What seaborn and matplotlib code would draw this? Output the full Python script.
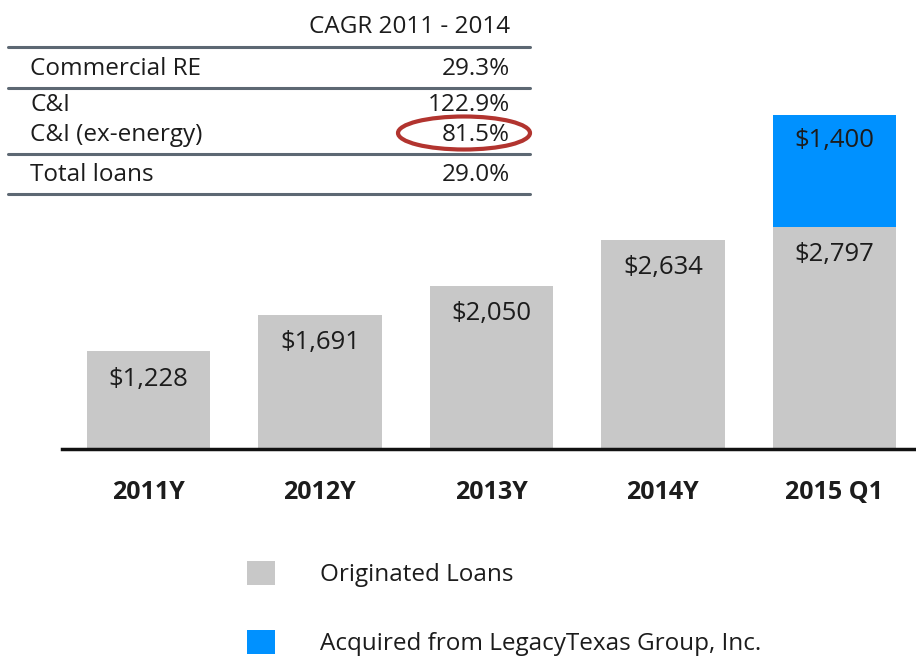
import matplotlib
matplotlib.use("Agg")
import matplotlib.pyplot as plt
import seaborn as sns
import pandas as pd
from matplotlib.patches import Patch, Ellipse
from matplotlib.lines import Line2D

# ---- data ----
periods = ["2011Y", "2012Y", "2013Y", "2014Y", "2015 Q1"]
originated = [1228, 1691, 2050, 2634, 2797]
acquired = [0, 0, 0, 0, 1400]
legend_labels = ["Originated Loans", "Acquired from LegacyTexas Group, Inc."]

table_header = "CAGR 2011 - 2014"
table_rows = ["Commercial RE", "C&I", "C&I (ex-energy)", "Total loans"]
table_values = ["29.3%", "122.9%", "81.5%", "29.0%"]

GRAY = "#c8c8c8"
BLUE = "#0091ff"
TXT = "#1c1c1c"

sns.set_theme(style="white")
plt.rcParams["font.family"] = ["Open Sans", "DejaVu Sans"]

W, H = 916, 657
fig = plt.figure(figsize=(W / 100, H / 100), dpi=100)

def fx(px):
    return px / W

def fy(py):
    return 1 - py / H

# axes: baseline at y=449, x from 62 to 916
ax_top = 50
ax = fig.add_axes([fx(62), fy(449), fx(916 - 62), (449 - ax_top) / H])

df = pd.DataFrame({
    "period": periods,
    "originated": originated,
    "total": [o + a for o, a in zip(originated, acquired)],
})

sns.barplot(data=df, x="period", y="total", color=BLUE, saturation=1,
            width=0.72, ax=ax, edgecolor="none")
sns.barplot(data=df, x="period", y="originated", color=GRAY, saturation=1,
            width=0.72, ax=ax, edgecolor="none")

px_per_unit = 0.0795
ax.set_ylim(0, (449 - ax_top) / px_per_unit)
ax.set_xlim(-0.504, 4.476)

for i, (o, a) in enumerate(zip(originated, acquired)):
    ax.annotate(f"${o:,}", xy=(i, o), xytext=(0, -11), textcoords="offset points",
                ha="center", va="top", fontsize=18.5, color=TXT)
    if a:
        ax.annotate(f"${a:,}", xy=(i, o + a), xytext=(0, -9), textcoords="offset points",
                    ha="center", va="top", fontsize=18.5, color=TXT)

for s in ["top", "right", "left"]:
    ax.spines[s].set_visible(False)
ax.spines["bottom"].set_color("#111111")
ax.spines["bottom"].set_linewidth(2.5)
ax.set_yticks([])
ax.set_xlabel("")
ax.set_ylabel("")
ax.tick_params(axis="x", length=0, pad=22)
for lbl in ax.get_xticklabels():
    lbl.set_fontweight("bold")
    lbl.set_fontsize(18)
    lbl.set_color(TXT)

# ---- CAGR table ----
LINE = "#5d6873"
FS = 17.5
fig.text(fx(510), fy(27), table_header, ha="right", va="center", fontsize=FS, color=TXT)
for yy in [47, 88, 154, 194]:
    fig.add_artist(Line2D([fx(8), fx(530)], [fy(yy), fy(yy)], color=LINE, lw=2.2))
row_y = [69, 105, 135, 175]
for name, val, yy in zip(table_rows, table_values, row_y):
    fig.text(fx(30), fy(yy), name, ha="left", va="center", fontsize=FS, color=TXT)
    fig.text(fx(510), fy(yy), val, ha="right", va="center", fontsize=FS, color=TXT)

fig.add_artist(Ellipse((fx(464), fy(133)), fx(132), 33 / H, fill=False,
                       edgecolor="#b2342f", lw=3))

# ---- legend ----
handles = [Patch(facecolor=GRAY, edgecolor="none"), Patch(facecolor=BLUE, edgecolor="none")]
leg = fig.legend(handles, legend_labels, loc="upper left",
                 bbox_to_anchor=(fx(237), fy(551)), frameon=False,
                 fontsize=17.5, handlelength=1.15, handleheight=1.15,
                 handletextpad=1.87, labelspacing=1.75, borderaxespad=0)
for t in leg.get_texts():
    t.set_color(TXT)

fig.savefig("out.png", dpi=100)
